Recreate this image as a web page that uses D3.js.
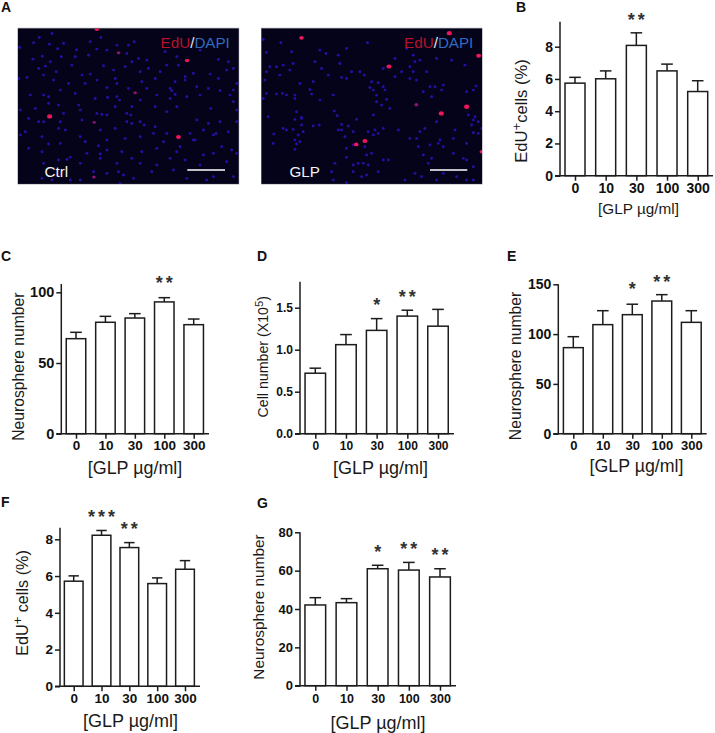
<!DOCTYPE html>
<html><head><meta charset="utf-8">
<script src="https://cdn.jsdelivr.net/npm/d3@7"></script>
<style>html,body{margin:0;padding:0;background:#fff}svg{display:block}text{font-family:"Liberation Sans",Arial,sans-serif}</style>
</head><body><svg id="c" width="715" height="733"></svg>
<script>
const doses=["0","10","30","100","300"];
const valuesB=[5.74,6.01,8.08,6.5,5.22], upperB=[6.1,6.5,8.86,6.92,5.89], starsB=["","","**","",""];
const valuesC=[67.2,78.8,81.8,93.2,77.1], upperC=[71.7,83,84.9,96.2,81.1], starsC=["","","","**",""];
const valuesD=[0.72,1.06,1.23,1.40,1.28], upperD=[0.78,1.18,1.37,1.47,1.48], starsD=["","","*","**",""];
const valuesE=[86.4,109.5,119.5,133.2,111.8], upperE=[97.4,123.5,130,139.6,123.5], starsE=["","","*","**",""];
const valuesF=[5.72,8.22,7.55,5.59,6.37], upperF=[6.01,8.48,7.82,5.9,6.84], starsF=["","***","**","",""];
const valuesG=[42.1,43.3,61,60.3,56.7], upperG=[45.9,45.4,62.8,64.3,61], starsG=["","","*","**","**"];
const ticksB=[0,2,4,6,8], ticksC=[0,50,100], ticksD=[0,0.5,1,1.5], ticksE=[0,50,100,150], ticksF=[0,2,4,6,8], ticksG=[0,20,40,60,80];

const blueCtrl=[[100,128],[117,112],[155,100],[147,132],[172,146],[190,130],[229,149],[270,125],[302,112],[385,135],[402,125],[320,150],[58,142],[98,177],[126,168],[150,185],[183,170],[225,170],[265,165],[290,147],[350,135],[380,160],[415,175],[440,180],[495,155],[530,170],[600,150],[655,178],[685,185],[700,205],[115,205],[135,198],[168,215],[215,195],[245,225],[270,222],[310,197],[340,210],[345,235],[375,200],[395,185],[420,215],[445,205],[480,215],[500,195],[535,195],[555,230],[580,220],[630,222],[655,235],[680,210],[710,250],[55,235],[80,232],[130,225],[160,240],[205,250],[255,250],[290,240],[320,262],[350,250],[385,265],[425,245],[465,235],[510,265],[525,245],[555,240],[590,260],[625,265],[660,272],[700,270],[90,285],[130,285],[145,290],[180,270],[175,315],[225,280],[235,315],[285,295],[322,292],[350,290],[358,300],[395,320],[420,300],[440,265],[470,285],[510,295],[525,283],[515,272],[560,290],[600,285],[632,325],[690,285],[700,305],[710,330],[60,330],[105,325],[145,310],[190,340],[240,330],[290,340],[305,343],[320,345],[380,340],[392,345],[345,320],[465,320],[500,335],[530,320],[590,360],[625,370],[660,365],[710,365],[85,355],[115,365],[130,365],[180,365],[195,390],[245,360],[300,390],[345,385],[380,365],[395,370],[420,365],[432,375],[465,380],[500,400],[570,400],[585,420],[610,390],[640,405],[648,400],[665,440],[685,395],[75,395],[60,405],[125,410],[175,385],[240,410],[255,425],[295,437],[320,420],[375,415],[420,410],[460,400],[490,425],[540,440],[580,420],[85,445],[145,432],[180,430],[125,455],[210,472],[200,478],[260,460],[300,462],[320,450],[365,455],[395,475],[425,455],[470,445],[510,475],[530,455],[610,465],[640,460],[695,450],[710,460],[130,490],[175,480],[240,490],[300,475],[350,490],[420,490],[470,495],[555,480],[600,495],[680,485],[125,535],[170,525],[210,540],[240,540],[280,515],[320,520],[355,515],[370,525],[400,535],[455,515],[520,510],[560,535],[360,550],[640,530],[700,530],[620,540],[155,540]];
const redCtrl=[[148,349,1],[535,411,.9],[561,181,.7],[290,87,.7],[405,278,.5],[355,158,.5],[282,367,.4],[281,531,.5]];
const blueGlp=[[790,118],[843,128],[875,155],[800,157],[810,200],[830,200],[800,215],[850,195],[880,190],[795,240],[840,225],[870,210],[800,280],[790,295],[830,282],[848,280],[860,285],[885,285],[885,295],[930,268],[935,282],[900,250],[960,150],[978,160],[945,185],[965,205],[985,225],[1040,145],[1103,128],[1015,165],[1020,190],[1055,215],[1080,215],[1093,225],[1040,235],[1025,232],[940,245],[960,300],[890,335],[905,355],[885,358],[880,388],[905,375],[860,390],[850,385],[910,395],[895,405],[822,402],[820,430],[885,420],[890,432],[900,425],[885,448],[940,378],[958,375],[905,352],[805,350],[1003,333],[1012,347],[1000,285],[1110,262],[1120,270],[1135,248],[1115,245],[1150,260],[1155,270],[1130,285],[1130,305],[1160,298],[1145,315],[1170,325],[1120,345],[1070,358],[1025,373],[1045,378],[1025,390],[1035,410],[1015,390],[1060,395],[1105,395],[1125,390],[1135,400],[1120,405],[1150,385],[1195,390],[1095,440],[1100,465],[1115,460],[1040,445],[1060,435],[1040,472],[1005,490],[1060,495],[1075,490],[1090,490],[1105,495],[1150,480],[1165,480],[1135,515],[1100,525],[1085,530],[1060,515],[995,515],[1000,540],[1040,548],[1215,540],[1245,520],[1285,490],[1270,465],[1295,475],[1315,430],[1330,440],[1320,420],[1250,415],[1230,415],[1255,440],[1260,395],[1275,385],[1310,365],[1365,390],[1360,415],[1420,360],[1415,375],[1425,350],[1435,365],[1420,398],[1435,400],[1445,385],[1405,345],[1420,270],[1428,258],[1400,275],[1330,255],[1325,270],[1305,260],[1290,260],[1270,275],[1295,290],[1250,240],[1230,235],[1245,185],[1240,165],[1230,200],[1240,215],[1185,175],[1220,145],[1260,180],[1355,180],[1395,195],[1310,175],[1280,215],[1150,205],[1205,215],[1185,230],[1400,430],[1360,460],[1400,480],[1420,500],[1290,435],[1330,520],[1370,530],[1400,540],[1310,540],[1265,530],[1420,540],[1390,475]];
const redGlp=[[905,113,.8],[1348,99,1],[1436,167,.9],[1167,199,.9],[1249,314,.6],[1324,340,1],[1400,320,1],[1069,433,.8],[1095,423,.9],[1445,455,.7]];

const svg=d3.select("#c");
const INK="#1c1c1c";
const defs=svg.append("defs");
defs.append("filter").attr("id","soft").append("feGaussianBlur").attr("stdDeviation",0.4);

// Panel letters
const letters=[["A",1,12],["B",516,12],["C",1,261],["D",257,261],["E",507,261],["F",1,507],["G",257,508]];
svg.selectAll("text.letter").data(letters).join("text").attr("class","letter")
 .attr("x",d=>d[1]).attr("y",d=>d[2]).attr("font-size",14).attr("font-weight",700).attr("fill","#111").text(d=>d[0]);

// Micrographs
function micrograph(o){
  const g=svg.append("g");
  g.append("rect").attr("x",o.x0-.5).attr("y",27.8).attr("width",o.x1-o.x0+1).attr("height",156.6).attr("fill","#9a9aa0");
  g.append("rect").attr("x",o.x0).attr("y",28.5).attr("width",o.x1-o.x0).attr("height",155.4).attr("fill","#05031a");
  const sx=d3.scaleLinear().domain(o.domX).range([o.x0,o.x1]);
  const sy=d3.scaleLinear().domain([85,552]).range([28.5,184]);
  const cid="clip"+o.x0;
  defs.append("clipPath").attr("id",cid).append("rect").attr("x",o.x0).attr("y",28.5).attr("width",o.x1-o.x0).attr("height",155.4);
  const m=g.append("g").attr("clip-path",`url(#${cid})`).append("g").attr("filter","url(#soft)");
  m.selectAll("circle.b").data(o.blue).join("circle").attr("class","b")
   .attr("cx",d=>sx(d[0])).attr("cy",d=>sy(d[1])).attr("r",1.45).attr("fill","#2610a4");
  m.selectAll("ellipse.r").data(o.red).join("ellipse").attr("class","r")
   .attr("cx",d=>sx(d[0])).attr("cy",d=>sy(d[1])).attr("rx",d=>1+1.6*d[2]).attr("ry",d=>.9+1.3*d[2])
   .attr("fill",d=>d[2]>.65?"#f0145a":"#8a1470");
  const t=g.append("text").attr("x",o.x0+142.6).attr("y",48).attr("font-size",15.2);
  t.append("tspan").attr("fill","#b8122a").text("EdU");
  t.append("tspan").attr("fill","#e8e8f0").text("/");
  t.append("tspan").attr("fill","#2f6cc0").text("DAPI");
  g.append("text").attr("x",o.labelX).attr("y",177).attr("font-size",15.2).attr("fill","#f2f2f2").text(o.label);
  g.append("line").attr("x1",o.barX[0]).attr("x2",o.barX[1]).attr("y1",170).attr("y2",170).attr("stroke","#fff").attr("stroke-width",1.4);
}
micrograph({x0:18,x1:238.7,domX:[53,716],blue:blueCtrl,red:redCtrl,label:"Ctrl",labelX:44.5,barX:[187.3,225]});
micrograph({x0:261.5,x1:482,domX:[785,1446],blue:blueGlp,red:redGlp,label:"GLP",labelX:289.5,barX:[430,467.3]});

function sup(sel,parts,baseSize){
  parts.forEach(p=>{
    const t=sel.append("tspan").text(p[0]);
    if(p[1]) t.attr("font-size",baseSize*.8).attr("dy",-baseSize*.38);
    else if(p[2]) t.attr("dy",baseSize*.38);
  });
}

function panel(o){
  const g=svg.append("g");
  const x=d3.scalePoint().domain(doses).range(o.cx);
  const y=d3.scaleLinear().domain([0,o.tickMax]).range([o.y0,o.yMaxTick]);
  const rows=doses.map((d,i)=>({d,v:o.values[i],u:o.upper[i],s:o.stars[i]}));
  // error bars
  const e=g.selectAll("g.err").data(rows).join("g");
  e.append("line").attr("x1",d=>x(d.d)).attr("x2",d=>x(d.d)).attr("y1",d=>y(d.v)).attr("y2",d=>y(d.u));
  e.append("line").attr("x1",d=>x(d.d)-o.cap).attr("x2",d=>x(d.d)+o.cap).attr("y1",d=>y(d.u)).attr("y2",d=>y(d.u));
  e.selectAll("line").attr("stroke",INK).attr("stroke-width",1.5);
  // bars
  g.selectAll("rect.bar").data(rows).join("rect").attr("class","bar")
   .attr("x",d=>x(d.d)-o.bw/2).attr("width",o.bw).attr("y",d=>y(d.v)).attr("height",d=>o.y0-y(d.v))
   .attr("fill","#fff").attr("stroke",INK).attr("stroke-width",1.5);
  // axes
  const ay=g.append("g").attr("transform",`translate(${o.ax},0)`)
    .call(d3.axisLeft(y).tickValues(o.ticks).tickSize(5).tickPadding(2).tickFormat(o.fmt||d3.format("d")));
  ay.select(".domain").remove();
  ay.selectAll("line").attr("stroke",INK).attr("stroke-width",1.5);
  ay.selectAll("text").attr("font-size",o.fsY).attr("font-weight",700).attr("fill","#111").attr("font-family",'"Liberation Sans"');
  g.append("line").attr("x1",o.ax).attr("x2",o.ax).attr("y1",o.top).attr("y2",o.y0+.7).attr("stroke",INK).attr("stroke-width",1.5);
  const ax=g.append("g").attr("transform",`translate(0,${o.y0})`)
    .call(d3.axisBottom(x).tickSize(5).tickPadding(o.padX).tickSizeOuter(0));
  ax.select(".domain").remove();
  ax.selectAll("line").attr("stroke",INK).attr("stroke-width",1.5);
  ax.selectAll("text").attr("font-size",o.fsX).attr("font-weight",700).attr("fill","#111").attr("font-family",'"Liberation Sans"');
  g.append("line").attr("x1",o.ax-5).attr("x2",o.xEnd).attr("y1",o.y0).attr("y2",o.y0).attr("stroke",INK).attr("stroke-width",1.5);
  // stars
  g.selectAll("text.star").data(rows.map((r,i)=>({...r,yc:o.starY[i]})).filter(d=>d.s)).join("text").attr("class","star")
   .attr("x",d=>x(d.d)+1.5).attr("y",d=>d.yc+8.5).attr("text-anchor","middle").attr("font-size",18).attr("font-weight",700).attr("letter-spacing",3)
   .attr("fill","#333").text(d=>d.s);
  // titles
  g.append("text").attr("x",(o.titleX)).attr("y",o.titleY).attr("text-anchor","middle").attr("font-size",o.fsT).attr("fill","#1a1a1a").text("[GLP µg/ml]");
  const yt=g.append("text").attr("transform",`translate(${o.ytX},${o.ytY}) rotate(-90)`).attr("text-anchor","middle").attr("font-size",o.fsYT).attr("fill","#1a1a1a");
  sup(yt,o.yTitle,o.fsYT);
}
const eduPlus=[["EdU"],["+",1],["cells (%)",0,1]];
const eduPlusSp=[["EdU"],["+",1],[" cells (%)",0,1]];
const neuro=[["Neurosphere number"]];
const cellNum=[["Cell number (X10"],["5",1],[")",0,1]];

panel({values:valuesB,upper:upperB,stars:starsB,ticks:ticksB,tickMax:8,y0:175.7,yMaxTick:46.7,top:21.7,ax:560,xEnd:713,cx:[575,697.7],bw:20,cap:5.8,
  fsX:14,fsY:14,fsT:15.3,fsYT:16.6,padX:2,titleX:638.5,titleY:213.5,ytX:527,ytY:111,yTitle:eduPlus,starY:[0,0,17,0,0]});
panel({values:valuesC,upper:upperC,stars:starsC,ticks:ticksC,tickMax:100,y0:433.7,yMaxTick:292.3,top:284,ax:61.3,xEnd:209,cx:[76,193.7],bw:19.5,cap:5.8,
  fsX:13.5,fsY:14.5,fsT:17.9,fsYT:15.7,padX:2,titleX:135,titleY:473.5,ytX:23.5,ytY:366.7,yTitle:neuro,starY:[0,0,0,280.5,0]});
panel({values:valuesD,upper:upperD,stars:starsD,ticks:ticksD,tickMax:1.5,y0:433.7,yMaxTick:307.7,top:281.7,ax:300,xEnd:454,cx:[315.3,438],bw:20.5,cap:5.8,fmt:d3.format(".1f"),
  fsX:12,fsY:12,fsT:18,fsYT:14.2,padX:3,titleX:380.5,titleY:473.5,ytX:268,ytY:356.7,yTitle:cellNum,starY:[0,0,302,294,0]});
panel({values:valuesE,upper:upperE,stars:starsE,ticks:ticksE,tickMax:150,y0:433.7,yMaxTick:284.3,top:284.3,ax:558.3,xEnd:706.7,cx:[573.3,691.3],bw:19.8,cap:5.8,
  fsX:13,fsY:14,fsT:17.8,fsYT:15.7,padX:2,titleX:636.5,titleY:472,ytX:520.7,ytY:366,yTitle:neuro,starY:[0,0,286,279,0]});
panel({values:valuesF,upper:upperF,stars:starsF,ticks:ticksF,tickMax:8,y0:686.3,yMaxTick:539.3,top:527.7,ax:60,xEnd:200,cx:[73.7,185],bw:18.7,cap:5.2,
  fsX:13.5,fsY:13.5,fsT:18,fsYT:16.2,padX:2,titleX:130.5,titleY:727,ytX:28.3,ytY:603,yTitle:eduPlusSp,starY:[0,514,526.5,0,0]});
panel({values:valuesG,upper:upperG,stars:starsG,ticks:ticksG,tickMax:80,y0:685.7,yMaxTick:532.3,top:532.3,ax:300,xEnd:456,cx:[315.3,440],bw:20.7,cap:5.8,
  fsX:12.5,fsY:13,fsT:18,fsYT:15.4,padX:3,titleX:378,titleY:728.5,ytX:264,ytY:607,yTitle:neuro,starY:[0,0,549.5,546.5,552.5]});
</script></body></html>
